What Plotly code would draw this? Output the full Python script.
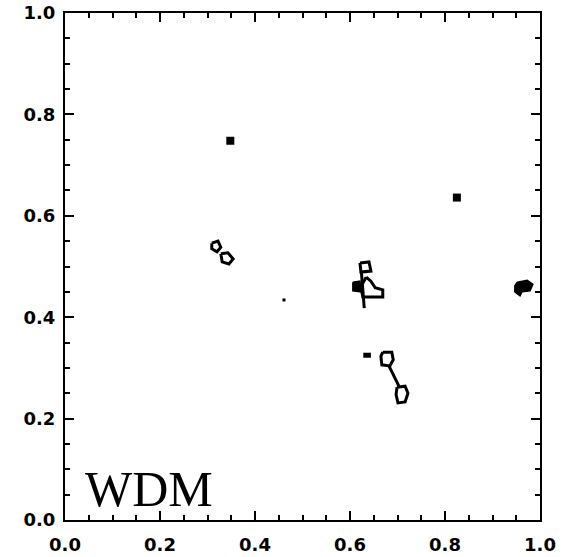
import plotly.graph_objects as go

# ---- data (contour outlines in data units) ----
loop_a_x = [0.309, 0.322, 0.328, 0.320, 0.309, 0.309]
loop_a_y = [0.546, 0.550, 0.538, 0.529, 0.535, 0.546]
loop_b_x = [0.328, 0.343, 0.354, 0.345, 0.331, 0.328]
loop_b_y = [0.525, 0.527, 0.515, 0.505, 0.509, 0.525]

top_loop_x = [0.621, 0.640, 0.644, 0.623, 0.621]
top_loop_y = [0.507, 0.509, 0.491, 0.489, 0.507]
stem_x = [0.624, 0.625, 0.628, 0.630]
stem_y = [0.489, 0.476, 0.450, 0.418]
tri_x = [0.634, 0.644, 0.653, 0.669, 0.669, 0.627, 0.623, 0.634]
tri_y = [0.479, 0.471, 0.458, 0.454, 0.440, 0.440, 0.460, 0.479]
left_fill_x = [0.606, 0.621, 0.623, 0.606, 0.606]
left_fill_y = [0.469, 0.471, 0.450, 0.452, 0.469]

dash_x = [0.628, 0.644]
dash_y = [0.325, 0.325]
mid_loop_x = [0.669, 0.688, 0.691, 0.684, 0.667, 0.665, 0.669]
mid_loop_y = [0.331, 0.331, 0.316, 0.304, 0.306, 0.323, 0.331]
link_x = [0.682, 0.695, 0.703]
link_y = [0.304, 0.280, 0.264]
low_loop_x = [0.699, 0.716, 0.722, 0.716, 0.701, 0.697, 0.699]
low_loop_y = [0.262, 0.264, 0.250, 0.233, 0.231, 0.247, 0.262]

right_blob_x = [0.952, 0.973, 0.985, 0.979, 0.962, 0.958, 0.947, 0.947, 0.952]
right_blob_y = [0.469, 0.473, 0.465, 0.452, 0.450, 0.442, 0.450, 0.462, 0.469]

square_x = [0.348, 0.825]
square_y = [0.748, 0.636]
dot_x = [0.461]
dot_y = [0.434]

tick_vals = [0.0, 0.2, 0.4, 0.6, 0.8, 1.0]
tick_text = ["0.0", "0.2", "0.4", "0.6", "0.8", "1.0"]
label = "WDM"

fig = go.Figure()

def add_line(x, y, width=3):
    fig.add_trace(go.Scatter(x=x, y=y, mode="lines",
                             line=dict(color="black", width=width),
                             hoverinfo="skip"))

def add_fill(x, y):
    fig.add_trace(go.Scatter(x=x, y=y, mode="lines", fill="toself",
                             fillcolor="black",
                             line=dict(color="black", width=1.5),
                             hoverinfo="skip"))

for xs, ys in [(loop_a_x, loop_a_y), (loop_b_x, loop_b_y),
               (top_loop_x, top_loop_y), (stem_x, stem_y), (tri_x, tri_y),
               (mid_loop_x, mid_loop_y), (link_x, link_y),
               (low_loop_x, low_loop_y)]:
    add_line(xs, ys)

add_line(dash_x, dash_y, width=5)
add_fill(left_fill_x, left_fill_y)
add_fill(right_blob_x, right_blob_y)

fig.add_trace(go.Scatter(x=square_x, y=square_y, mode="markers",
                         marker=dict(symbol="square", size=8, color="black"),
                         hoverinfo="skip"))
fig.add_trace(go.Scatter(x=dot_x, y=dot_y, mode="markers",
                         marker=dict(symbol="square", size=3, color="black"),
                         hoverinfo="skip"))

axis_common = dict(
    range=[0, 1], tickvals=tick_vals, ticktext=tick_text,
    ticks="inside", ticklen=9, tickwidth=2, tickcolor="black",
    showline=True, linewidth=2, linecolor="black", mirror="ticks",
    showgrid=False, zeroline=False, automargin=False,
    minor=dict(dtick=0.05, ticks="inside", ticklen=5, tickwidth=2,
               tickcolor="black", showgrid=False),
    tickfont=dict(family="DejaVu Sans", size=18, color="black",
                  weight="bold"),
)

fig.update_layout(
    width=562, height=557,
    margin=dict(l=65, r=22, t=13, b=37),
    paper_bgcolor="white", plot_bgcolor="white",
    showlegend=False,
    xaxis=dict(**axis_common, ticklabelstandoff=7),
    yaxis=dict(**axis_common, ticklabelstandoff=4),
    annotations=[dict(text=label, x=0.038, y=0.062, xref="x", yref="y",
                      xanchor="left", yanchor="middle", showarrow=False,
                      font=dict(family="Liberation Serif", size=50,
                                color="black"))],
)

fig.write_html("out.html")
